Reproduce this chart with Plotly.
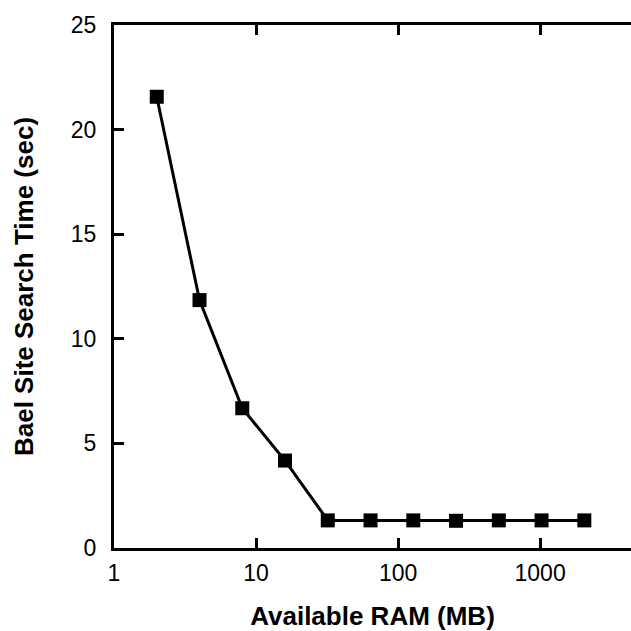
import plotly.graph_objects as go

ram_mb = [2, 4, 8, 16, 32, 64, 128, 256, 512, 1024, 2048]
search_time = [21.57, 11.85, 6.68, 4.18, 1.32, 1.32, 1.32, 1.3, 1.32, 1.32, 1.32]

x_ticks = [1, 10, 100, 1000]
y_ticks = [0, 5, 10, 15, 20, 25]

font_family = "Liberation Sans, Arial, Helvetica, sans-serif"

fig = go.Figure()
fig.add_trace(go.Scatter(
    x=ram_mb, y=search_time, mode="lines+markers",
    line=dict(color="black", width=3),
    marker=dict(symbol="square", size=14, color="black"),
    showlegend=False,
))

fig.update_layout(
    width=631, height=631,
    margin=dict(l=114, r=0, t=25, b=83, pad=0, autoexpand=False),
    paper_bgcolor="white", plot_bgcolor="white",
    font=dict(family=font_family, color="black", size=23),
    xaxis=dict(
        type="log", range=[0, 3.64],
        tickvals=x_ticks, ticktext=[str(v) for v in x_ticks],
        ticks="inside", ticklen=10, tickwidth=3, tickcolor="black",
        showline=True, linewidth=3, linecolor="black", mirror="ticks",
        showgrid=False, zeroline=False,
        ticklabelstandoff=2,
        title=dict(text="<b>Available RAM (MB)</b>", font=dict(size=26), standoff=36),
        automargin=False,
    ),
    yaxis=dict(
        range=[0, 25],
        tickvals=y_ticks,
        ticks="inside", ticklen=10, tickwidth=3, tickcolor="black",
        showline=True, linewidth=3, linecolor="black",
        showgrid=False, zeroline=False,
        ticklabelstandoff=10,
        title=dict(text="<b>Bael Site Search Time (sec)</b>", font=dict(size=26), standoff=30),
        automargin=False,
    ),
    yaxis2=dict(
        range=[0, 25], overlaying="y", side="right",
        tickvals=y_ticks, ticks="inside", ticklen=3, tickwidth=3, tickcolor="black",
        showline=False, showgrid=False, zeroline=False, showticklabels=False,
    ),
)

fig.write_html(
    "out.html",
    config={"displayModeBar": False},
    post_script="document.body.style.margin='0';document.body.style.overflow='hidden';",
)
